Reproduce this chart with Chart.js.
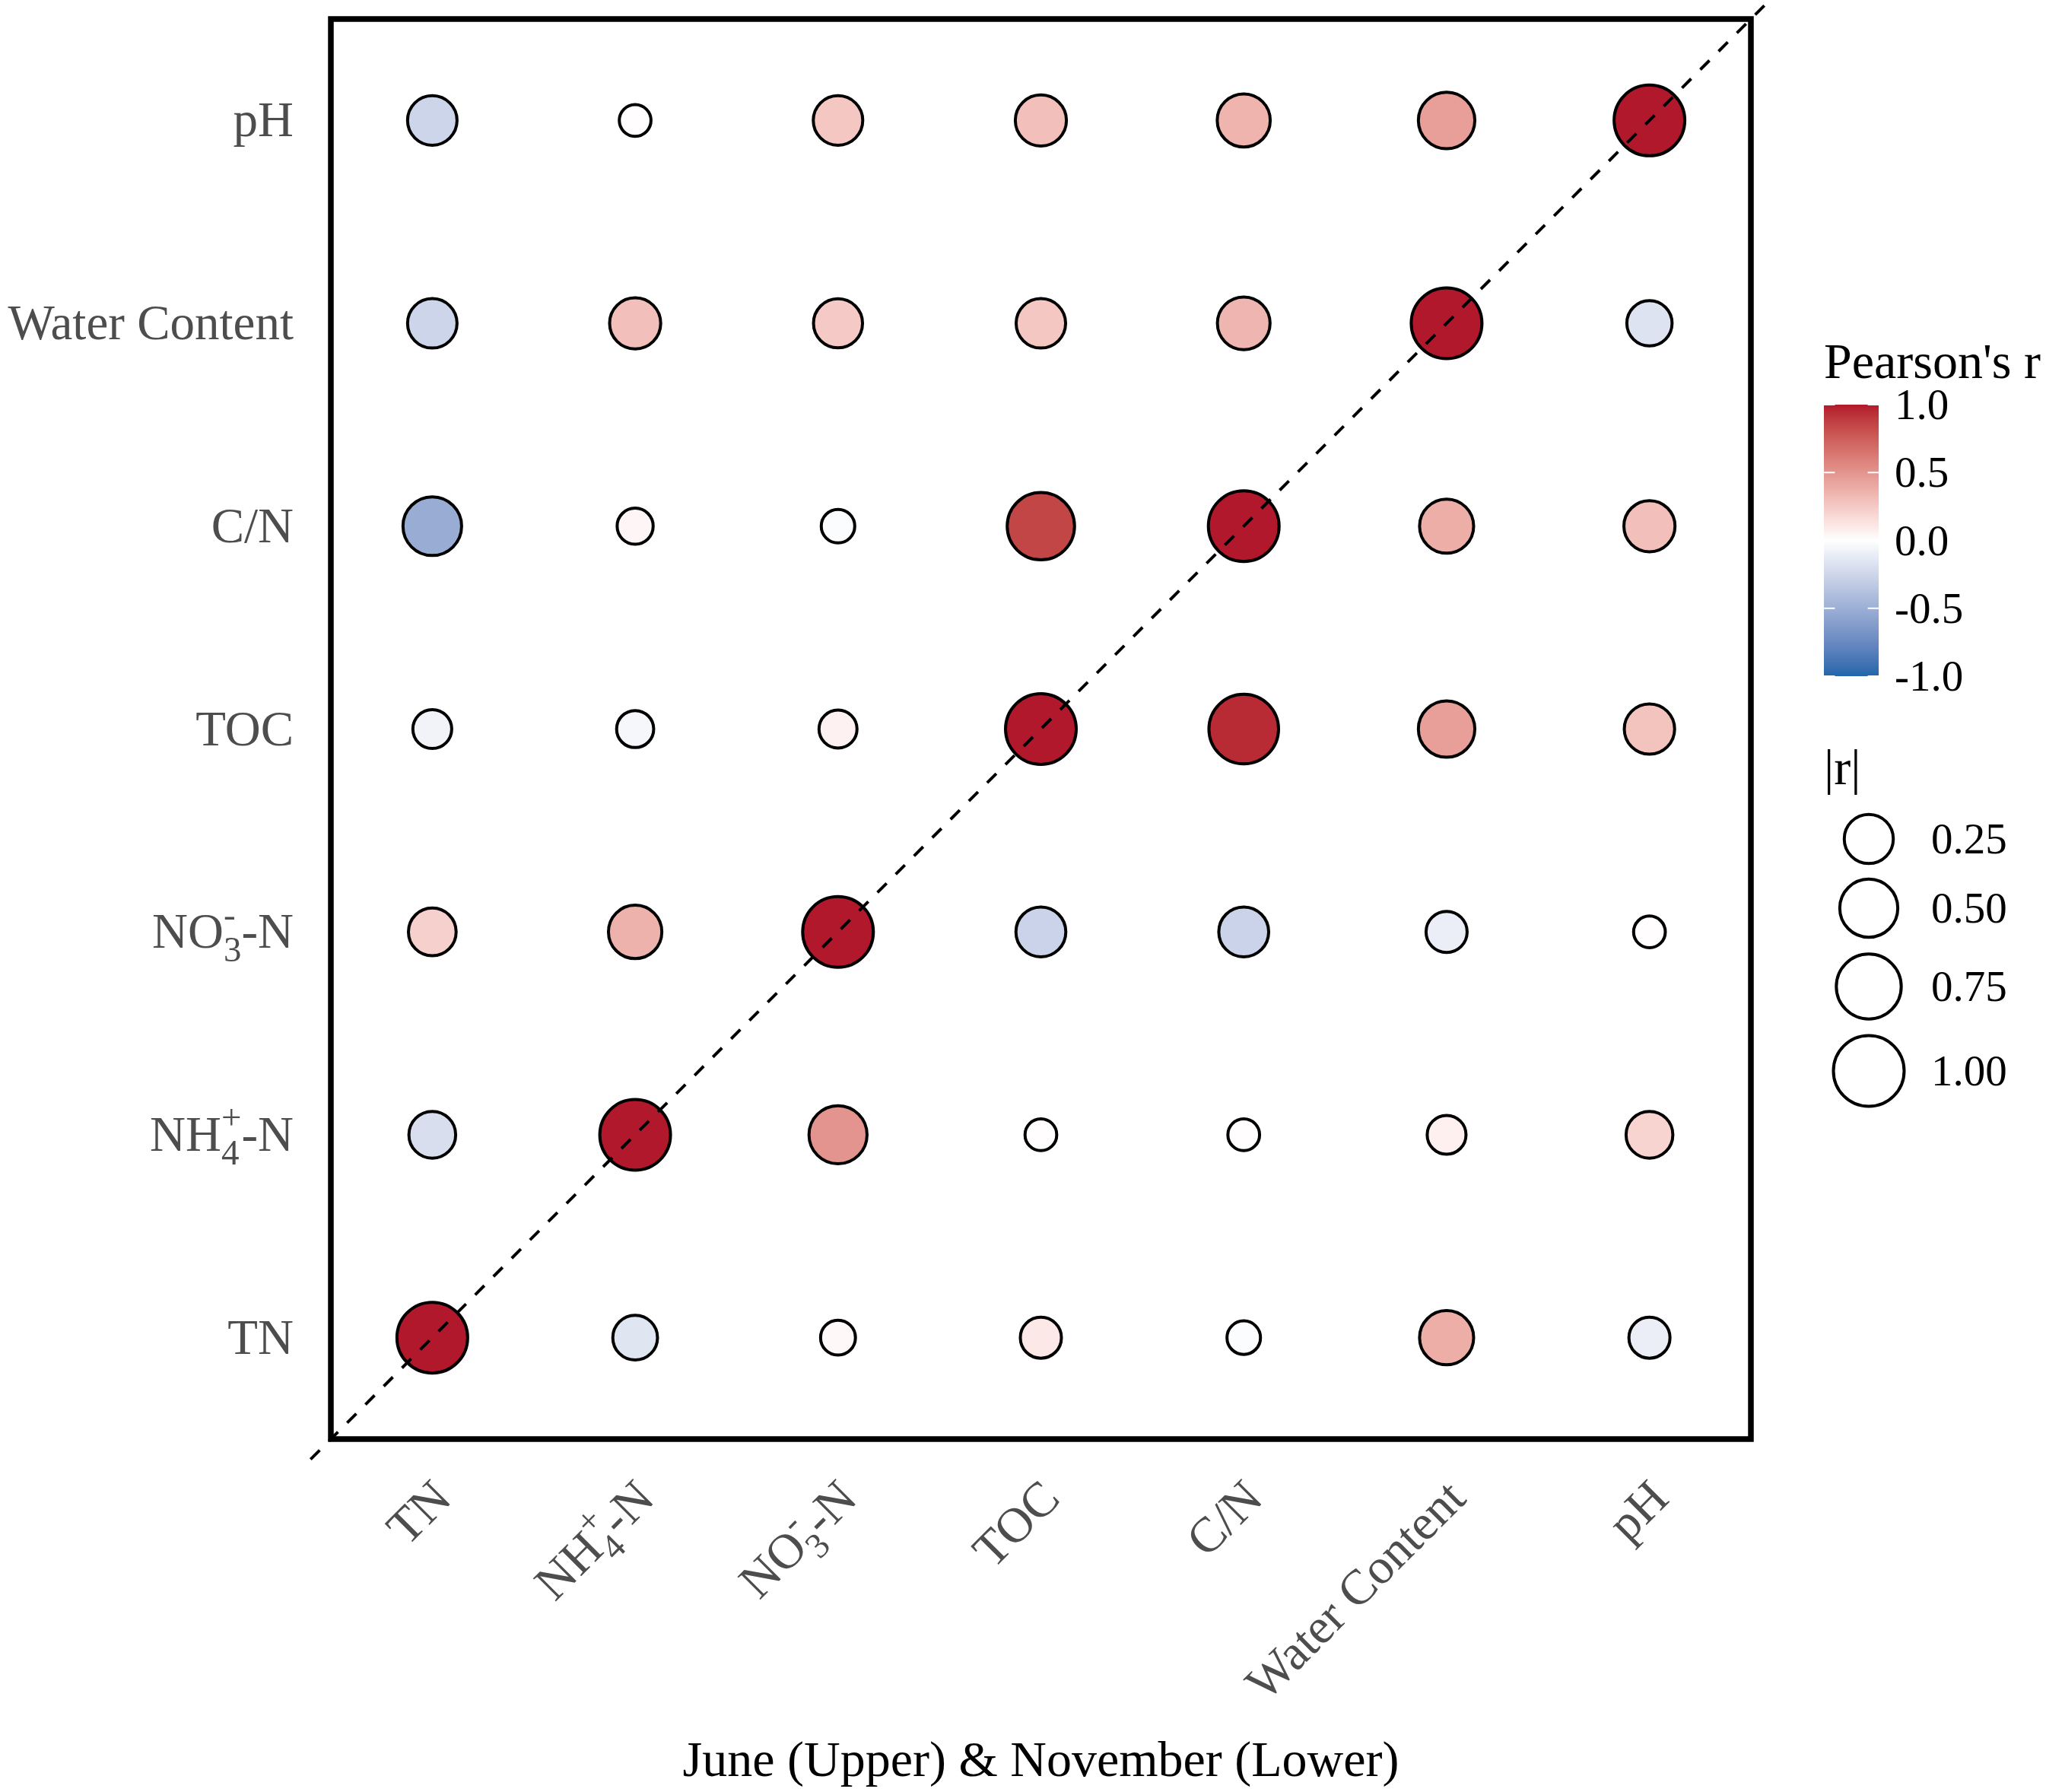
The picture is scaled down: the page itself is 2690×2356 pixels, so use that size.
<!DOCTYPE html>
<html lang="en">
<head>
    <meta charset="UTF-8">
    <title>Pearson's r - June (Upper) & November (Lower)</title>
    <script src="https://cdn.jsdelivr.net/npm/chart.js"></script>
    <style>
        body {
            margin: 0;
            background: #ffffff;
        }
        .wrap {
            width: 2690px;
            height: 2356px;
            position: relative;
        }
    </style>
</head>
<body>

    <div class="wrap">
        <canvas id="corrChart"></canvas>
    </div>

    <script>
        // Variables in axis order (left -> right, bottom -> top); _x = subscript, ^x = superscript
        const variables = ['TN', 'NH_4^+-N', 'NO_3^--N', 'TOC', 'C/N', 'Water Content', 'pH'];

        // Pearson's r, one array per row (y variable), columns follow `variables`
        const rowTN  = [1.00, -0.16, 0.03, 0.10, -0.02, 0.38, -0.10];
        const rowNH4 = [-0.20, 1.00, 0.50, 0.01, 0.01, 0.07, 0.20];
        const rowNO3 = [0.22, 0.36, 1.00, -0.27, -0.27, -0.10, 0.01];
        const rowTOC = [-0.07, -0.05, 0.06, 1.00, 0.95, 0.45, 0.28];
        const rowCN  = [-0.52, 0.04, -0.02, 0.85, 1.00, 0.38, 0.30];
        const rowWC  = [-0.26, 0.30, 0.25, 0.26, 0.34, 1.00, -0.17];
        const rowPH  = [-0.26, 0.01, 0.26, 0.30, 0.35, 0.45, 1.00];
        const rows = [rowTN, rowNH4, rowNO3, rowTOC, rowCN, rowWC, rowPH];

        // legend ticks
        const colorTicks = [1.0, 0.5, 0.0, -0.5, -1.0];
        const sizeTicks = [0.25, 0.50, 0.75, 1.00];
        const xTitle = 'June (Upper) & November (Lower)';

        const SERIF = '"Liberation Serif", "Times New Roman", serif';

        // diverging colour ramp interpolated in CIELAB (like scale_fill_gradient2)
        function hexToLab(hex) {
            var lin = [1, 3, 5].map(function (i) {
                var c = parseInt(hex.substr(i, 2), 16) / 255;
                return c <= 0.04045 ? c / 12.92 : Math.pow((c + 0.055) / 1.055, 2.4);
            });
            var X = (0.4124 * lin[0] + 0.3576 * lin[1] + 0.1805 * lin[2]) / 0.95047;
            var Y = 0.2126 * lin[0] + 0.7152 * lin[1] + 0.0722 * lin[2];
            var Z = (0.0193 * lin[0] + 0.1192 * lin[1] + 0.9505 * lin[2]) / 1.08883;
            var f = function (t) { return t > 0.008856 ? Math.cbrt(t) : 7.787 * t + 16 / 116; };
            return [116 * f(Y) - 16, 500 * (f(X) - f(Y)), 200 * (f(Y) - f(Z))];
        }

        function labToRgb(lab) {
            var fy = (lab[0] + 16) / 116, fx = fy + lab[1] / 500, fz = fy - lab[2] / 200;
            var inv = function (t) { return t * t * t > 0.008856 ? t * t * t : (t - 16 / 116) / 7.787; };
            var X = inv(fx) * 0.95047, Y = inv(fy), Z = inv(fz) * 1.08883;
            var rgb = [
                3.2406 * X - 1.5372 * Y - 0.4986 * Z,
                -0.9689 * X + 1.8758 * Y + 0.0415 * Z,
                0.0557 * X - 0.2040 * Y + 1.0570 * Z
            ];
            return 'rgb(' + rgb.map(function (c) {
                c = c <= 0.0031308 ? 12.92 * c : 1.055 * Math.pow(c, 1 / 2.4) - 0.055;
                return Math.round(Math.min(1, Math.max(0, c)) * 255);
            }).join(',') + ')';
        }

        const labLow = hexToLab('#2166AC');
        const labMid = hexToLab('#FFFFFF');
        const labHigh = hexToLab('#B2182B');

        function corrColor(v) {
            var end = v < 0 ? labLow : labHigh;
            var t = Math.min(1, Math.abs(v));
            return labToRgb(labMid.map(function (m, i) { return m + (end[i] - m) * t; }));
        }

        // circle radius grows with sqrt(|r|)
        function corrRadius(v) {
            return 18 + 28.5 * Math.sqrt(Math.abs(v));
        }

        // one point per cell
        const points = [];
        rows.forEach(function (row, j) {
            row.forEach(function (v, i) {
                points.push({ x: i + 1, y: j + 1, v: v });
            });
        });

        function splitLabel(s) {
            var m = s.match(/^(.*?)_(.)\^(.)(.*)$/);
            return m ? { pre: m[1], sub: m[2], sup: m[3], post: m[4] } : { pre: s, sub: '', sup: '', post: '' };
        }

        // right-aligned label at (x, y baseline) with stacked sub/superscript
        function drawLabel(ctx, s, x, y, size) {
            var p = splitLabel(s), small = Math.round(size * 0.72);
            ctx.font = size + 'px ' + SERIF;
            var w1 = ctx.measureText(p.pre).width;
            var w3 = ctx.measureText(p.post).width;
            ctx.font = small + 'px ' + SERIF;
            var w2 = Math.max(ctx.measureText(p.sub).width, ctx.measureText(p.sup).width);
            var x0 = x - (w1 + w2 + w3);
            ctx.textAlign = 'left';
            ctx.textBaseline = 'alphabetic';
            ctx.font = size + 'px ' + SERIF;
            ctx.fillText(p.pre, x0, y);
            ctx.fillText(p.post, x0 + w1 + w2, y);
            if (w2) {
                ctx.font = small + 'px ' + SERIF;
                ctx.fillText(p.sub, x0 + w1, y + size * 0.28);
                ctx.fillText(p.sup, x0 + w1, y - size * 0.44);
            }
        }

        const decor = {
            id: 'decor',
            afterDatasetsDraw: function (chart) {
                var ctx = chart.ctx, xs = chart.scales.x, ys = chart.scales.y, a = chart.chartArea;
                ctx.save();

                // dashed diagonal
                ctx.strokeStyle = '#000000';
                ctx.lineWidth = 4;
                ctx.setLineDash([17, 17]);
                ctx.beginPath();
                ctx.moveTo(xs.getPixelForValue(0.4), ys.getPixelForValue(0.4));
                ctx.lineTo(xs.getPixelForValue(7.6), ys.getPixelForValue(7.6));
                ctx.stroke();
                ctx.setLineDash([]);

                // panel border
                ctx.lineWidth = 7.5;
                ctx.strokeRect(a.left, a.top, a.right - a.left, a.bottom - a.top);

                // axis labels
                ctx.fillStyle = '#4D4D4D';
                variables.forEach(function (name, i) {
                    drawLabel(ctx, name, a.left - 49, ys.getPixelForValue(i + 1) + 21, 65);
                    ctx.save();
                    ctx.translate(xs.getPixelForValue(i + 1) + 28, a.bottom + 81);
                    ctx.rotate(-Math.PI / 4);
                    drawLabel(ctx, name, 0, 0, 65);
                    ctx.restore();
                });

                ctx.fillStyle = '#000000';
                ctx.font = '66px ' + SERIF;
                ctx.textAlign = 'center';
                ctx.textBaseline = 'alphabetic';
                ctx.fillText(xTitle, (a.left + a.right) / 2, a.bottom + 443);

                // colour bar legend
                var barL = 2398, barW = 72, barTop = 532, barBot = 889;
                var barY = function (v) { return barTop + (1 - v) / 2 * (barBot - barTop); };
                ctx.textAlign = 'left';
                ctx.font = '66px ' + SERIF;
                ctx.fillText("Pearson's r", barL, 497);

                var grad = ctx.createLinearGradient(0, barTop, 0, barBot);
                for (var k = 0; k <= 40; k++) {
                    grad.addColorStop(k / 40, corrColor(1 - 2 * k / 40));
                }
                ctx.fillStyle = grad;
                ctx.fillRect(barL, barTop, barW, barBot - barTop);

                ctx.strokeStyle = '#FFFFFF';
                ctx.lineWidth = 2;
                ctx.fillStyle = '#000000';
                ctx.font = '57px ' + SERIF;
                colorTicks.forEach(function (v) {
                    var y = barY(v);
                    ctx.beginPath();
                    ctx.moveTo(barL, y);
                    ctx.lineTo(barL + barW / 5, y);
                    ctx.moveTo(barL + barW * 4 / 5, y);
                    ctx.lineTo(barL + barW, y);
                    ctx.stroke();
                    ctx.fillText(v.toFixed(1), 2491, y + 19);
                });

                // size legend
                ctx.font = '66px ' + SERIF;
                ctx.fillText('|r|', barL, 1031);
                var sizeY = [1103, 1194, 1297, 1408];
                ctx.strokeStyle = '#000000';
                ctx.lineWidth = 4;
                ctx.font = '57px ' + SERIF;
                sizeTicks.forEach(function (v, i) {
                    ctx.beginPath();
                    ctx.arc(2457, sizeY[i], corrRadius(v), 0, Math.PI * 2);
                    ctx.stroke();
                    ctx.fillText(v.toFixed(2), 2539, sizeY[i] + 19);
                });

                ctx.restore();
            }
        };

        var ctx1 = document.getElementById('corrChart').getContext('2d');
        var corrChart = new Chart(ctx1, {
            type: 'scatter',
            data: {
                datasets: [{
                    data: points,
                    pointRadius: function (c) { return c.raw ? corrRadius(c.raw.v) : 0; },
                    pointHoverRadius: function (c) { return c.raw ? corrRadius(c.raw.v) : 0; },
                    pointBackgroundColor: function (c) { return c.raw ? corrColor(c.raw.v) : '#fff'; },
                    pointBorderColor: '#000000',
                    pointBorderWidth: 4,
                    clip: false
                }]
            },
            options: {
                responsive: true,
                maintainAspectRatio: false,
                animation: false,
                layout: {
                    autoPadding: false,
                    padding: { left: 435, right: 388, top: 25, bottom: 464 }
                },
                plugins: {
                    legend: { display: false },
                    tooltip: { enabled: false }
                },
                scales: {
                    x: { type: 'linear', min: 0.5, max: 7.5, display: false },
                    y: { type: 'linear', min: 0.5, max: 7.5, display: false }
                }
            },
            plugins: [decor]
        });
    </script>

</body>
</html>
